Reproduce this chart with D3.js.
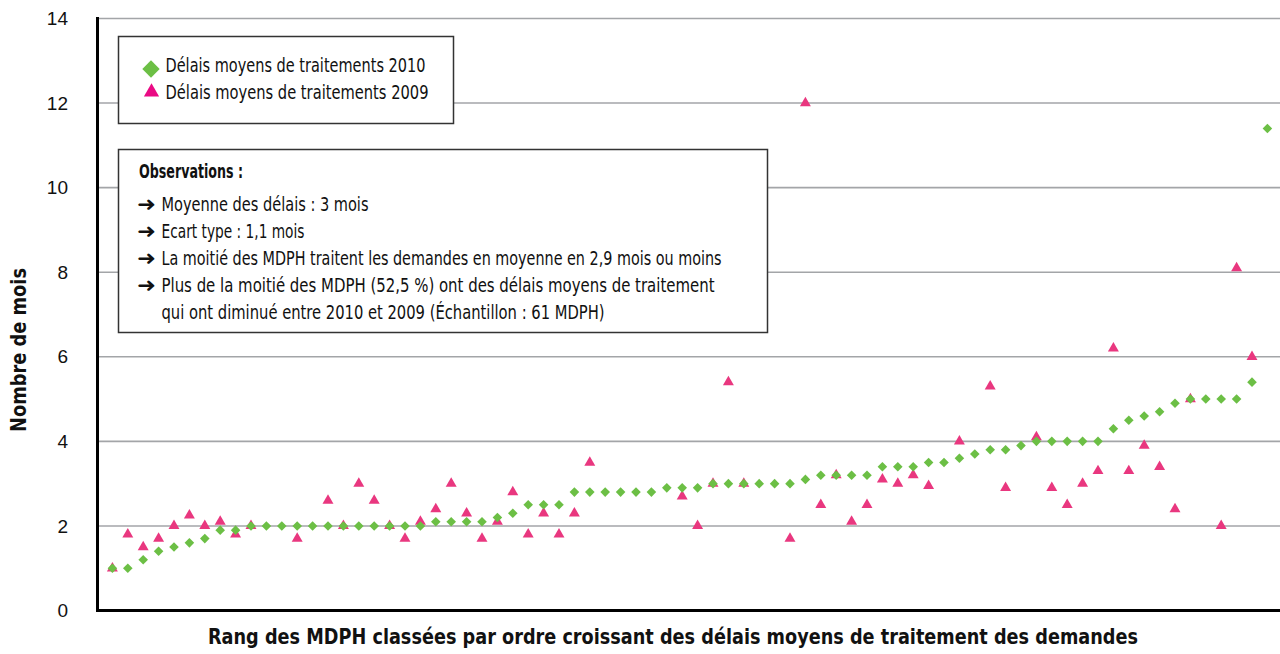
<!DOCTYPE html>
<html>
<head>
<meta charset="utf-8">
<script src="https://cdn.jsdelivr.net/npm/d3@7"></script>
<style>
  body { margin: 0; background: #fff; }
  text { font-family: "Liberation Sans Narrow", "DejaVu Sans Condensed", "Liberation Sans", Arial, sans-serif; fill: #111; }
</style>
</head>
<body>
<div id="chart"></div>
<script>
// rang des MDPH (1..76)
const ranks = d3.range(1, 77);

const delais2010 = [
  1.0, 1.0, 1.2, 1.4, 1.5, 1.6, 1.7, 1.9, 1.9, 2.0,
  2.0, 2.0, 2.0, 2.0, 2.0, 2.0, 2.0, 2.0, 2.0, 2.0,
  2.0, 2.1, 2.1, 2.1, 2.1, 2.2, 2.3, 2.5, 2.5, 2.5,
  2.8, 2.8, 2.8, 2.8, 2.8, 2.8, 2.9, 2.9, 2.9, 3.0,
  3.0, 3.0, 3.0, 3.0, 3.0, 3.1, 3.2, 3.2, 3.2, 3.2,
  3.4, 3.4, 3.4, 3.5, 3.5, 3.6, 3.7, 3.8, 3.8, 3.9,
  4.0, 4.0, 4.0, 4.0, 4.0, 4.3, 4.5, 4.6, 4.7, 4.9,
  5.0, 5.0, 5.0, 5.0, 5.4, 11.4
];

const delais2009 = [
  1.0, 1.8, 1.5, 1.7, 2.0, 2.25, 2.0, 2.1, 1.8, 2.0,
  null, null, 1.7, null, 2.6, 2.0, 3.0, 2.6, 2.0, 1.7,
  2.1, 2.4, 3.0, 2.3, 1.7, 2.1, 2.8, 1.8, 2.3, 1.8,
  2.3, 3.5, null, null, null, null, null, 2.7, 2.0, 3.0,
  5.4, 3.0, null, null, 1.7, 12.0, 2.5, 3.2, 2.1, 2.5,
  3.1, 3.0, 3.2, 2.95, null, 4.0, null, 5.3, 2.9, null,
  4.1, 2.9, 2.5, 3.0, 3.3, 6.2, 3.3, 3.9, 3.4, 2.4,
  5.0, null, 2.0, 8.1, 6.0, null
];

const yTicks = [0, 2, 4, 6, 8, 10, 12, 14];

const legendLabels = ['Délais moyens de traitements 2010', 'Délais moyens de traitements 2009'];
const obsTitle = 'Observations :';
const obsLines = [
  { arrow: true, text: 'Moyenne des délais : 3 mois', w: 207 },
  { arrow: true, text: 'Ecart type : 1,1 mois', w: 143 },
  { arrow: true, text: 'La moitié des MDPH traitent les demandes en moyenne en 2,9 mois ou moins', w: 560 },
  { arrow: true, text: 'Plus de la moitié des MDPH (52,5 %) ont des délais moyens de traitement', w: 553 },
  { arrow: false, text: 'qui ont diminué entre 2010 et 2009 (Échantillon : 61 MDPH)', w: 443 },
];

const green = '#6cbf45';
const pink = '#e9377f';

const width = 1280;
const height = 654;

const svg = d3.select('#chart').append('svg').attr('width', width).attr('height', height);

const xScale = d3.scaleLinear().domain([0, 77]).range([97, 1282.8]);
const yScale = d3.scaleLinear().domain([0, 14]).range([610.5, 18.5]);

// grid lines
svg.append('g')
  .selectAll('line')
  .data(yTicks.filter((d) => d > 0))
  .join('line')
  .attr('x1', 97)
  .attr('x2', width)
  .attr('y1', (d) => yScale(d))
  .attr('y2', (d) => yScale(d))
  .attr('stroke', '#a3a5a8')
  .attr('stroke-width', 1.6);

// y axis labels
const yAxis = d3.axisLeft(yScale).tickValues(yTicks).tickSize(0).tickPadding(29);
const yAxisGroup = svg.append('g').attr('transform', 'translate(97,0)').call(yAxis);
yAxisGroup.select('.domain').remove();
yAxisGroup.selectAll('text')
  .style('font-family', '"Liberation Sans", Arial, sans-serif')
  .style('font-size', '19px')
  .attr('fill', '#111');

// points 2009 (triangles) under 2010 (diamonds)
const pts2009 = ranks.map((r, i) => ({ r, v: delais2009[i] })).filter((d) => d.v != null);
const pts2010 = ranks.map((r, i) => ({ r, v: delais2010[i] }));

svg.append('g')
  .selectAll('path')
  .data(pts2009)
  .join('path')
  .attr('d', d3.symbol(d3.symbolTriangle, 52))
  .attr('transform', (d) => `translate(${xScale(d.r)},${yScale(d.v)})`)
  .attr('fill', pink);

svg.append('g')
  .selectAll('path')
  .data(pts2010)
  .join('path')
  .attr('d', d3.symbol(d3.symbolSquare, 46))
  .attr('transform', (d) => `translate(${xScale(d.r)},${yScale(d.v)}) rotate(45)`)
  .attr('fill', green);

// axis lines
svg.append('line').attr('x1', 97.5).attr('x2', 97.5).attr('y1', 17).attr('y2', 612).attr('stroke', '#000').attr('stroke-width', 3);
svg.append('line').attr('x1', 96).attr('x2', width).attr('y1', 610.5).attr('y2', 610.5).attr('stroke', '#000').attr('stroke-width', 3);

// axis titles
svg.append('text')
  .attr('x', 208)
  .attr('y', 644)
  .attr('textLength', 930)
  .attr('lengthAdjust', 'spacingAndGlyphs')
  .style('font-size', '22px')
  .style('font-weight', 'bold')
  .text('Rang des MDPH classées par ordre croissant des délais moyens de traitement des demandes');

svg.append('text')
  .attr('transform', 'translate(26,432) rotate(-90)')
  .attr('textLength', 164)
  .attr('lengthAdjust', 'spacingAndGlyphs')
  .style('font-size', '22px')
  .style('font-weight', 'bold')
  .text('Nombre de mois');

// legend box
const legend = svg.append('g');
legend.append('rect')
  .attr('x', 118.5).attr('y', 36.5).attr('width', 335).attr('height', 87)
  .attr('fill', '#fff').attr('stroke', '#333').attr('stroke-width', 1.5);
legend.append('path')
  .attr('d', d3.symbol(d3.symbolSquare, 150))
  .attr('transform', 'translate(151,69) rotate(45)')
  .attr('fill', green);
legend.append('path')
  .attr('d', d3.symbol(d3.symbolTriangle, 100))
  .attr('transform', 'translate(151.5,92)')
  .attr('fill', '#ea0a84');
legend.selectAll('text.lg')
  .data(legendLabels)
  .join('text')
  .attr('class', 'lg')
  .attr('x', 165.5)
  .attr('y', (d, i) => 72 + i * 27)
  .attr('textLength', (d, i) => (i === 0 ? 260 : 263))
  .attr('lengthAdjust', 'spacingAndGlyphs')
  .style('font-size', '20px')
  .text((d) => d);

// observations box
const obs = svg.append('g');
obs.append('rect')
  .attr('x', 118.5).attr('y', 149.5).attr('width', 649).attr('height', 183)
  .attr('fill', '#fff').attr('stroke', '#333').attr('stroke-width', 1.5);
obs.append('text')
  .attr('x', 139)
  .attr('y', 178)
  .attr('textLength', 104)
  .attr('lengthAdjust', 'spacingAndGlyphs')
  .style('font-size', '19px')
  .style('font-weight', 'bold')
  .text(obsTitle);

const rows = obs.selectAll('g.row').data(obsLines).join('g').attr('class', 'row')
  .attr('transform', (d, i) => `translate(0,${210.5 + i * 27.2})`);
rows.filter((d) => d.arrow)
  .append('text')
  .attr('x', 137)
  .attr('y', 0)
  .style('font-family', '"DejaVu Sans", sans-serif')
  .style('font-size', '20px')
  .style('font-weight', 'bold')
  .attr('textLength', 19)
  .attr('lengthAdjust', 'spacingAndGlyphs')
  .text('➜');
rows.append('text')
  .attr('x', 161.5)
  .attr('y', 0)
  .attr('textLength', (d) => d.w)
  .attr('lengthAdjust', 'spacingAndGlyphs')
  .style('font-size', '20px')
  .text((d) => d.text);
</script>
</body>
</html>
